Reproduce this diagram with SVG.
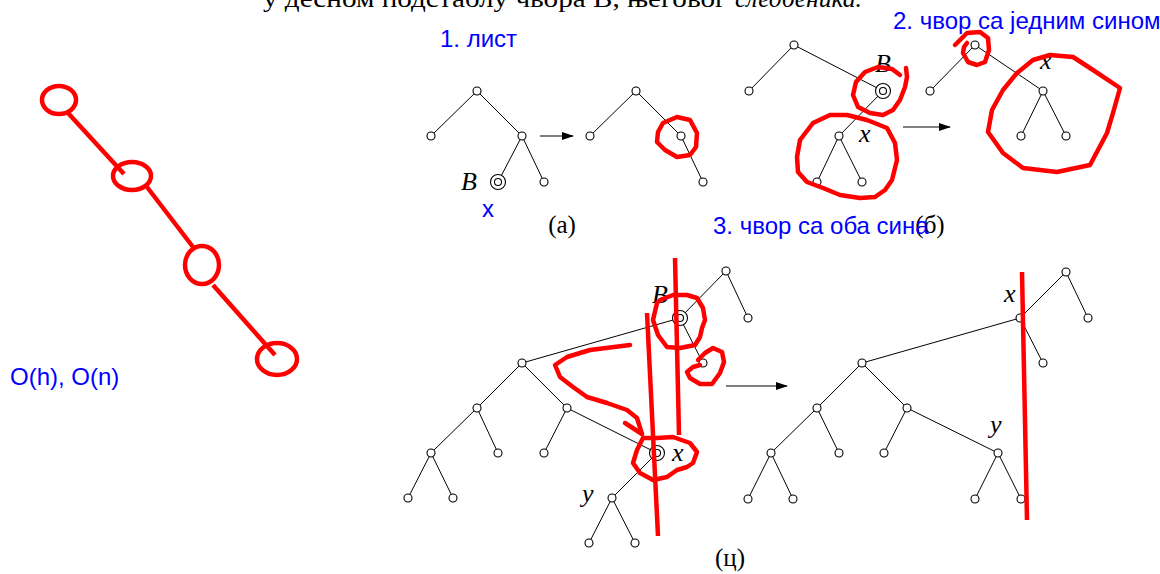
<svg xmlns="http://www.w3.org/2000/svg" width="1160" height="574" viewBox="0 0 1160 574">
<style>
.e{stroke:#000;stroke-width:1;fill:none}
.n{fill:#fff;stroke:#000;stroke-width:1.1}
.r{fill:none;stroke:#ff0000;stroke-width:4.5;stroke-linejoin:round;stroke-linecap:round}
.rl{fill:none;stroke:#ff0000;stroke-width:4.5}
.blue{font-family:"Liberation Sans",Arial,sans-serif;font-size:24px;fill:#0000ff}
.math{font-family:"Liberation Serif","Times New Roman",serif;font-style:italic;font-size:26px;fill:#000}
.cap{font-family:"Liberation Serif","Times New Roman",serif;font-size:25px;fill:#000}
.arr{stroke:#000;stroke-width:1.2;fill:none}
</style>
<defs>
<marker id="ah" markerWidth="12" markerHeight="8" refX="11" refY="4" orient="auto" markerUnits="userSpaceOnUse">
<path d="M0,0 L12,4 L0,8 Z" fill="#000"/>
</marker>
</defs>
<rect width="1160" height="574" fill="#fff"/>

<text id="title" class="cap" x="263" y="7" font-size="21"><tspan textLength="464" lengthAdjust="spacingAndGlyphs">у десном подстаблу чвора B, његовог</tspan> <tspan x="735" font-style="italic" textLength="127" lengthAdjust="spacingAndGlyphs">следбеника.</tspan></text>

<g id="chain">
<line class="rl" x1="68" y1="113" x2="124" y2="174"/>
<line class="rl" x1="147" y1="187" x2="193" y2="247"/>
<line class="rl" x1="213" y1="285" x2="275" y2="355"/>
<ellipse class="rl" cx="59" cy="100" rx="17" ry="14"/>
<ellipse class="rl" cx="132" cy="176" rx="19" ry="14"/>
<ellipse class="rl" cx="202" cy="265" rx="17" ry="19"/>
<ellipse class="rl" cx="277" cy="359" rx="20" ry="16"/>
</g>
<text id="complexity" class="blue" x="10" y="385">O(h), O(n)</text>

<g id="connectors">
<!-- (a) left -->
<line class="e" x1="477" y1="91" x2="431" y2="136"/>
<line class="e" x1="477" y1="91" x2="522" y2="136"/>
<line class="e" x1="522" y1="136" x2="498" y2="182"/>
<line class="e" x1="522" y1="136" x2="544" y2="182"/>
<!-- (a) right -->
<line class="e" x1="636" y1="91" x2="590" y2="136"/>
<line class="e" x1="636" y1="91" x2="681" y2="136"/>
<line class="e" x1="681" y1="136" x2="703" y2="182"/>
<!-- (b) left -->
<line class="e" x1="794" y1="45" x2="749" y2="91"/>
<line class="e" x1="794" y1="45" x2="883" y2="91"/>
<line class="e" x1="883" y1="91" x2="839" y2="136"/>
<line class="e" x1="839" y1="136" x2="817" y2="182"/>
<line class="e" x1="839" y1="136" x2="862" y2="182"/>
<!-- (b) right -->
<line class="e" x1="975" y1="45" x2="930" y2="91"/>
<line class="e" x1="975" y1="45" x2="1043" y2="91"/>
<line class="e" x1="1043" y1="91" x2="1021" y2="136"/>
<line class="e" x1="1043" y1="91" x2="1066" y2="136"/>
<!-- (c) left -->
<line class="e" x1="726" y1="271" x2="680" y2="318"/>
<line class="e" x1="726" y1="271" x2="748" y2="318"/>
<line class="e" x1="680" y1="318" x2="703" y2="363"/>
<line class="e" x1="680" y1="318" x2="522" y2="363"/>
<line class="e" x1="522" y1="363" x2="477" y2="408"/>
<line class="e" x1="522" y1="363" x2="567" y2="408"/>
<line class="e" x1="477" y1="408" x2="431" y2="453"/>
<line class="e" x1="477" y1="408" x2="498" y2="453"/>
<line class="e" x1="567" y1="408" x2="544" y2="453"/>
<line class="e" x1="567" y1="408" x2="657" y2="453"/>
<line class="e" x1="657" y1="453" x2="612" y2="498"/>
<line class="e" x1="431" y1="453" x2="408" y2="498"/>
<line class="e" x1="431" y1="453" x2="453" y2="498"/>
<line class="e" x1="612" y1="498" x2="589" y2="543"/>
<line class="e" x1="612" y1="498" x2="635" y2="543"/>
<!-- (c) right -->
<line class="e" x1="1066" y1="272" x2="1020" y2="318"/>
<line class="e" x1="1066" y1="272" x2="1088" y2="318"/>
<line class="e" x1="1020" y1="318" x2="1043" y2="363"/>
<line class="e" x1="1020" y1="318" x2="862" y2="363"/>
<line class="e" x1="862" y1="363" x2="817" y2="408"/>
<line class="e" x1="862" y1="363" x2="907" y2="408"/>
<line class="e" x1="817" y1="408" x2="771" y2="453"/>
<line class="e" x1="817" y1="408" x2="839" y2="453"/>
<line class="e" x1="907" y1="408" x2="884" y2="453"/>
<line class="e" x1="907" y1="408" x2="998" y2="453"/>
<line class="e" x1="771" y1="453" x2="748" y2="499"/>
<line class="e" x1="771" y1="453" x2="793" y2="499"/>
<line class="e" x1="998" y1="453" x2="975" y2="499"/>
<line class="e" x1="998" y1="453" x2="1021" y2="499"/>
<!-- transformation arrows -->
<line class="arr" x1="540" y1="136" x2="573" y2="136" marker-end="url(#ah)"/>
<line class="arr" x1="903" y1="127" x2="950" y2="127" marker-end="url(#ah)"/>
<line class="arr" x1="726" y1="386" x2="787" y2="386" marker-end="url(#ah)"/>
</g>

<g id="tree-a-left">
<circle class="n" cx="477" cy="91" r="4"/>
<circle class="n" cx="431" cy="136" r="4"/>
<circle class="n" cx="522" cy="136" r="4"/>
<circle class="n" cx="498" cy="182" r="7.5"/>
<circle class="n" cx="498" cy="182" r="3.5"/>
<circle class="n" cx="544" cy="182" r="4"/>
<text class="math" x="461" y="190">B</text>
<text class="blue" x="482" y="217" font-size="22">x</text>
</g>
<g id="tree-a-right">
<circle class="n" cx="636" cy="91" r="4"/>
<circle class="n" cx="590" cy="136" r="4"/>
<circle class="n" cx="681" cy="136" r="4"/>
<circle class="n" cx="703" cy="182" r="4"/>
</g>
<text id="cap-a" class="cap" x="562" y="233" text-anchor="middle">(a)</text>
<text id="case1" class="blue" x="440" y="47">1. лист</text>

<g id="tree-b-left">
<circle class="n" cx="794" cy="45" r="4"/>
<circle class="n" cx="749" cy="91" r="4"/>
<circle class="n" cx="883" cy="91" r="7.5"/>
<circle class="n" cx="883" cy="91" r="3.5"/>
<circle class="n" cx="839" cy="136" r="4"/>
<circle class="n" cx="817" cy="182" r="4"/>
<circle class="n" cx="862" cy="182" r="4"/>
<text class="math" x="875" y="72">B</text>
<text class="math" x="859" y="142">x</text>
</g>
<g id="tree-b-right">
<circle class="n" cx="975" cy="45" r="4"/>
<circle class="n" cx="930" cy="91" r="4"/>
<circle class="n" cx="1043" cy="91" r="4"/>
<circle class="n" cx="1021" cy="136" r="4"/>
<circle class="n" cx="1066" cy="136" r="4"/>
<text class="math" x="1040" y="69">x</text>
</g>
<text id="case2" class="blue" x="893" y="29">2. чвор са једним сином</text>
<text id="cap-b" class="cap" x="930" y="233" text-anchor="middle">(б)</text>
<text id="case3" class="blue" x="713" y="234">3. чвор са оба сина</text>

<g id="tree-c-left">
<circle class="n" cx="726" cy="271" r="4"/>
<circle class="n" cx="680" cy="318" r="7.5"/>
<circle class="n" cx="680" cy="318" r="3.5"/>
<circle class="n" cx="748" cy="318" r="4"/>
<circle class="n" cx="703" cy="363" r="4"/>
<circle class="n" cx="522" cy="363" r="4"/>
<circle class="n" cx="477" cy="408" r="4"/>
<circle class="n" cx="567" cy="408" r="4"/>
<circle class="n" cx="431" cy="453" r="4"/>
<circle class="n" cx="498" cy="453" r="4"/>
<circle class="n" cx="544" cy="453" r="4"/>
<circle class="n" cx="657" cy="453" r="7.5"/>
<circle class="n" cx="657" cy="453" r="3.5"/>
<circle class="n" cx="408" cy="498" r="4"/>
<circle class="n" cx="453" cy="498" r="4"/>
<circle class="n" cx="612" cy="498" r="4"/>
<circle class="n" cx="589" cy="543" r="4"/>
<circle class="n" cx="635" cy="543" r="4"/>
<text class="math" x="652" y="303">B</text>
<text class="math" x="672" y="461">x</text>
<text class="math" x="582" y="502">y</text>
</g>
<g id="tree-c-right">
<circle class="n" cx="1066" cy="272" r="4"/>
<circle class="n" cx="1020" cy="318" r="4"/>
<circle class="n" cx="1088" cy="318" r="4"/>
<circle class="n" cx="1043" cy="363" r="4"/>
<circle class="n" cx="862" cy="363" r="4"/>
<circle class="n" cx="817" cy="408" r="4"/>
<circle class="n" cx="907" cy="408" r="4"/>
<circle class="n" cx="771" cy="453" r="4"/>
<circle class="n" cx="839" cy="453" r="4"/>
<circle class="n" cx="884" cy="453" r="4"/>
<circle class="n" cx="998" cy="453" r="4"/>
<circle class="n" cx="748" cy="499" r="4"/>
<circle class="n" cx="793" cy="499" r="4"/>
<circle class="n" cx="975" cy="499" r="4"/>
<circle class="n" cx="1021" cy="499" r="4"/>
<text class="math" x="1004" y="302">x</text>
<text class="math" x="990" y="433">y</text>
</g>
<text id="cap-c" class="cap" x="730" y="566" text-anchor="middle">(ц)</text>

<g id="red-marks">
<polygon class="r" points="663,123 677,117 690,120 697,133 696,147 690,155 677,157 665,150 657,142 658,132"/>
<polyline class="r" points="906,68 907,77 905,87 900,100 893,110 883,115 870,113 858,107 853,95 856,82 865,72 878,67 892,69 900,75"/>
<polygon class="r" points="830,115 847,115 867,120 887,128 895,143 897,160 892,180 885,190 875,197 860,198 840,195 823,188 807,182 798,172 797,157 800,140 813,123"/>
<polyline class="r" points="955,45 967,33 980,32 988,38 989,50 985,62 977,65 968,62 963,53 964,47 967,43"/>
<polygon class="r" points="1017,73 1033,60 1050,55 1073,57 1093,70 1120,88 1113,113 1107,133 1090,165 1057,172 1023,168 1003,153 988,132 992,110 1003,90"/>
<line class="rl" x1="675" y1="258" x2="679" y2="435"/>
<line class="rl" x1="647" y1="313" x2="658" y2="536"/>
<line class="rl" x1="1022" y1="272" x2="1027" y2="520"/>
<polygon class="r" points="660,300 673,295 687,295 697,298 703,308 705,320 702,328 700,337 695,345 680,348 667,347 658,335 653,320 657,303"/>
<polyline class="r" points="698,360 705,353 713,348 722,352 724,362 720,373 712,384 700,384 690,378 687,372 693,367 700,365"/>
<polygon class="r" points="643,438 657,438 673,437 690,443 697,452 693,463 687,467 677,470 667,477 653,480 640,473 633,463 637,450"/>
<polyline class="r" points="630,345 590,350 567,357 555,365 560,377 573,387 587,397 607,403 627,410 637,418 642,434"/>
<polyline class="r" points="625,423 642,434"/>
</g>
</svg>
